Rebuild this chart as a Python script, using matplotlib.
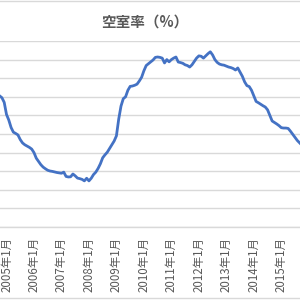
import matplotlib
matplotlib.use("Agg")
import matplotlib.pyplot as plt
from matplotlib.lines import Line2D

plt.rcParams['font.family'] = ['Noto Sans CJK JP', 'DejaVu Sans']

# Monthly vacancy rate (%), starting 2004年10月
start_offset = -3  # months relative to 2005年1月
vacancy = [
    7.05, 6.95, 6.70,
    6.05, 5.75, 5.35, 5.10, 5.03, 4.95, 4.70, 4.52, 4.42, 4.35, 4.28, 4.19,   # 2005
    4.00, 3.70, 3.52, 3.35, 3.22, 3.13, 3.05, 3.01, 2.99, 2.96, 2.93, 2.91,   # 2006
    2.89, 2.95, 2.72, 2.69, 2.70, 2.85, 2.75, 2.63, 2.60, 2.56, 2.48, 2.62,   # 2007
    2.48, 2.62, 2.82, 2.95, 3.15, 3.40, 3.72, 3.88, 4.02, 4.22, 4.42, 4.62,   # 2008
    4.90, 5.80, 6.50, 6.90, 7.00, 7.35, 7.56, 7.58, 7.62, 7.68, 7.85, 8.05,   # 2009
    8.40, 8.68, 8.78, 8.88, 8.98, 9.12, 9.14, 9.12, 9.08, 8.82, 9.00, 8.88,   # 2010
    9.00, 9.08, 9.14, 8.87, 8.84, 8.80, 8.72, 8.68, 8.60, 8.72, 8.90, 9.08,   # 2011
    9.20, 9.18, 9.08, 9.20, 9.32, 9.42, 9.25, 9.00, 8.85, 8.76, 8.72, 8.70,   # 2012
    8.65, 8.60, 8.57, 8.52, 8.44, 8.55, 8.33, 8.10, 7.80, 7.60, 7.55, 7.35,   # 2013
    7.05, 6.75, 6.68, 6.60, 6.52, 6.45, 6.30, 6.00, 5.70, 5.62, 5.54, 5.45,   # 2014
    5.34, 5.32, 5.32, 5.30, 5.15, 4.98, 4.80, 4.65, 4.52, 4.40,               # 2015
]
months = list(range(start_offset, start_offset + len(vacancy)))

tick_years = list(range(2005, 2016))
tick_labels = [f"{y}年1月" for y in tick_years]
tick_pos = [(y - 2005) * 12 for y in tick_years]

title = "空室率（%）"

fig = plt.figure(figsize=(3, 3), dpi=100)
ax = fig.add_axes([0.0, 1 - 227 / 300, 1.0, (227 - 41) / 300])

ax.plot(months, vacancy, color='#4472C4', linewidth=2.0, solid_joinstyle='round')

px_per_month = 2.29
x0 = 6.5
ax.set_xlim(-x0 / px_per_month, (300 - x0) / px_per_month)
ax.set_ylim(0, 10)
ax.set_yticks(range(0, 11))
ax.yaxis.grid(True, color='#d9d9d9', linewidth=1.0)
ax.set_axisbelow(True)
ax.tick_params(axis='y', left=False, labelleft=False)
ax.set_xticks(tick_pos)
ax.set_xticklabels(tick_labels, rotation=90, fontsize=8.3, color='#595959')
ax.tick_params(axis='x', length=0, pad=7)
for s in ['left', 'right', 'top']:
    ax.spines[s].set_visible(False)
ax.spines['bottom'].set_color('#d9d9d9')
ax.spines['bottom'].set_linewidth(1.0)

fig.text(145 / 300, 1 - 22 / 300, title, ha='center', va='center',
         fontsize=10.5, color='#595959', fontweight='bold')

fig.add_artist(Line2D([0, 1], [1 - 0.5 / 300, 1 - 0.5 / 300], color='#d9d9d9', linewidth=1.0, transform=fig.transFigure))
fig.add_artist(Line2D([0, 1], [1 - 298 / 300, 1 - 298 / 300], color='#d9d9d9', linewidth=1.0, transform=fig.transFigure))

fig.savefig('out.png', dpi=100)
